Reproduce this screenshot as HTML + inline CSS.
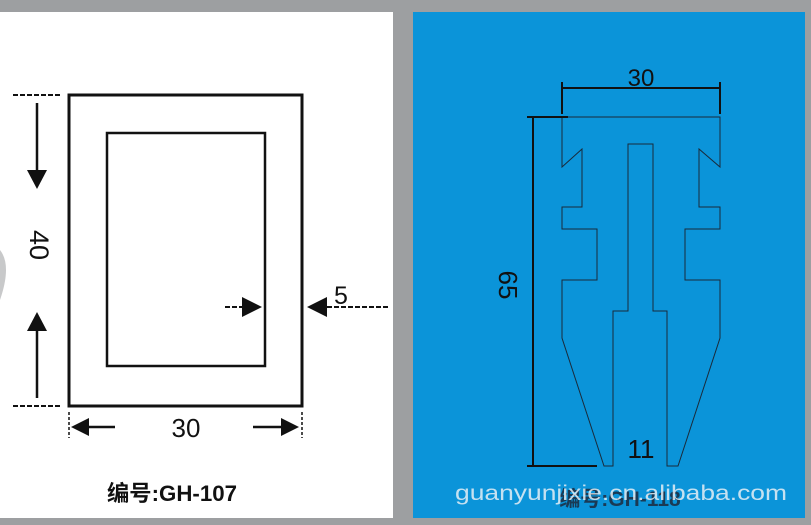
<!DOCTYPE html>
<html><head><meta charset="utf-8"><style>
html,body{margin:0;padding:0;}
body{width:811px;height:525px;background:#9d9fa1;position:relative;overflow:hidden;}
svg{position:absolute;left:0;top:0;}
</style></head><body>
<svg width="811" height="525" viewBox="0 0 811 525" xmlns="http://www.w3.org/2000/svg">
<rect x="0" y="12" width="393" height="506" fill="#ffffff"/>
<rect x="413" y="12" width="392" height="506" fill="#0b94d9"/>
<path d="M0 250 Q12 265 0 300 Z" fill="#c8c9ca"/>
<g stroke="#111" fill="none">
<rect x="69" y="95" width="233" height="311" stroke-width="3"/>
<rect x="107" y="133" width="158" height="233" stroke-width="2.5"/>
<line x1="13" y1="95" x2="60" y2="95" stroke-width="2" stroke-dasharray="5,2"/>
<line x1="13" y1="406" x2="60" y2="406" stroke-width="2" stroke-dasharray="5,2"/>
<line x1="37" y1="103" x2="37" y2="175" stroke-width="2.5"/>
<line x1="37" y1="326" x2="37" y2="398" stroke-width="2.5"/>
<line x1="225" y1="307" x2="250" y2="307" stroke-width="2" stroke-dasharray="5,2"/>
<line x1="320" y1="307" x2="390" y2="307" stroke-width="2" stroke-dasharray="5,2"/>
<line x1="85" y1="427" x2="115" y2="427" stroke-width="2.5"/>
<line x1="253" y1="427" x2="285" y2="427" stroke-width="2.5"/>
<line x1="69" y1="412" x2="69" y2="438" stroke-width="1.5" stroke-dasharray="3,2"/>
<line x1="302" y1="412" x2="302" y2="438" stroke-width="1.5" stroke-dasharray="3,2"/>
</g>
<g fill="#111">
<polygon points="27,170 47,170 37,189"/>
<polygon points="27,331 47,331 37,312"/>
<polygon points="242,297 242,317 262,307"/>
<polygon points="327,297 327,317 307,307"/>
<polygon points="89,418 89,436 71,427"/>
<polygon points="281,418 281,436 299,427"/>
</g>
<text x="0" y="0" transform="translate(30,245) rotate(90)" font-family="Liberation Sans, sans-serif" font-size="27" fill="#111" text-anchor="middle">40</text>
<text x="341" y="304" font-family="Liberation Sans, sans-serif" font-size="25" fill="#111" text-anchor="middle">5</text>
<text x="186" y="437" font-family="Liberation Sans, sans-serif" font-size="26" fill="#111" text-anchor="middle">30</text>
<text x="172" y="501" font-family="Liberation Sans, 'Noto Sans CJK SC', sans-serif" font-size="22" font-weight="bold" fill="#111" text-anchor="middle" textLength="130" lengthAdjust="spacingAndGlyphs">编号:GH-107</text>
<g stroke="#1a2a3a" fill="none" stroke-width="1">
<path d="M562 117 L562 167 L582 149 L582 207 L562 207 L562 229 L597 229 L597 280 L562 280 L562 338 L604 466 L613 466 L613 311 L628 311 L628 144 L653 144 L653 311 L667 311 L667 466 L678 466 L720 338 L720 280 L685 280 L685 229 L720 229 L720 207 L699 207 L699 149 L720 167 L720 117 Z"/>
</g>
<g stroke="#111" fill="none" stroke-width="2">
<line x1="562" y1="88" x2="720" y2="88"/>
<line x1="562" y1="82" x2="562" y2="114"/>
<line x1="720" y1="82" x2="720" y2="114"/>
<line x1="533" y1="117" x2="533" y2="466"/>
<line x1="527" y1="117" x2="568" y2="117"/>
<line x1="527" y1="466" x2="597" y2="466"/>
</g>
<text x="641" y="86" font-family="Liberation Sans, sans-serif" font-size="24" fill="#111" text-anchor="middle">30</text>
<text x="0" y="0" transform="translate(499,285) rotate(90)" font-family="Liberation Sans, sans-serif" font-size="26" fill="#111" text-anchor="middle">65</text>
<text x="641" y="458" font-family="Liberation Sans, sans-serif" font-size="26" fill="#111" text-anchor="middle">11</text>
<text x="620" y="506" font-family="Liberation Sans, 'Noto Sans CJK SC', sans-serif" font-size="21" font-weight="bold" fill="#1a3a55" text-anchor="middle">编号:GH-118</text>
<text x="621" y="500" font-family="Liberation Sans, sans-serif" font-size="21" fill="#e6eef4" fill-opacity="0.85" text-anchor="middle" textLength="332" lengthAdjust="spacingAndGlyphs">guanyunjixie.cn.alibaba.com</text>
</svg>
</body></html>
